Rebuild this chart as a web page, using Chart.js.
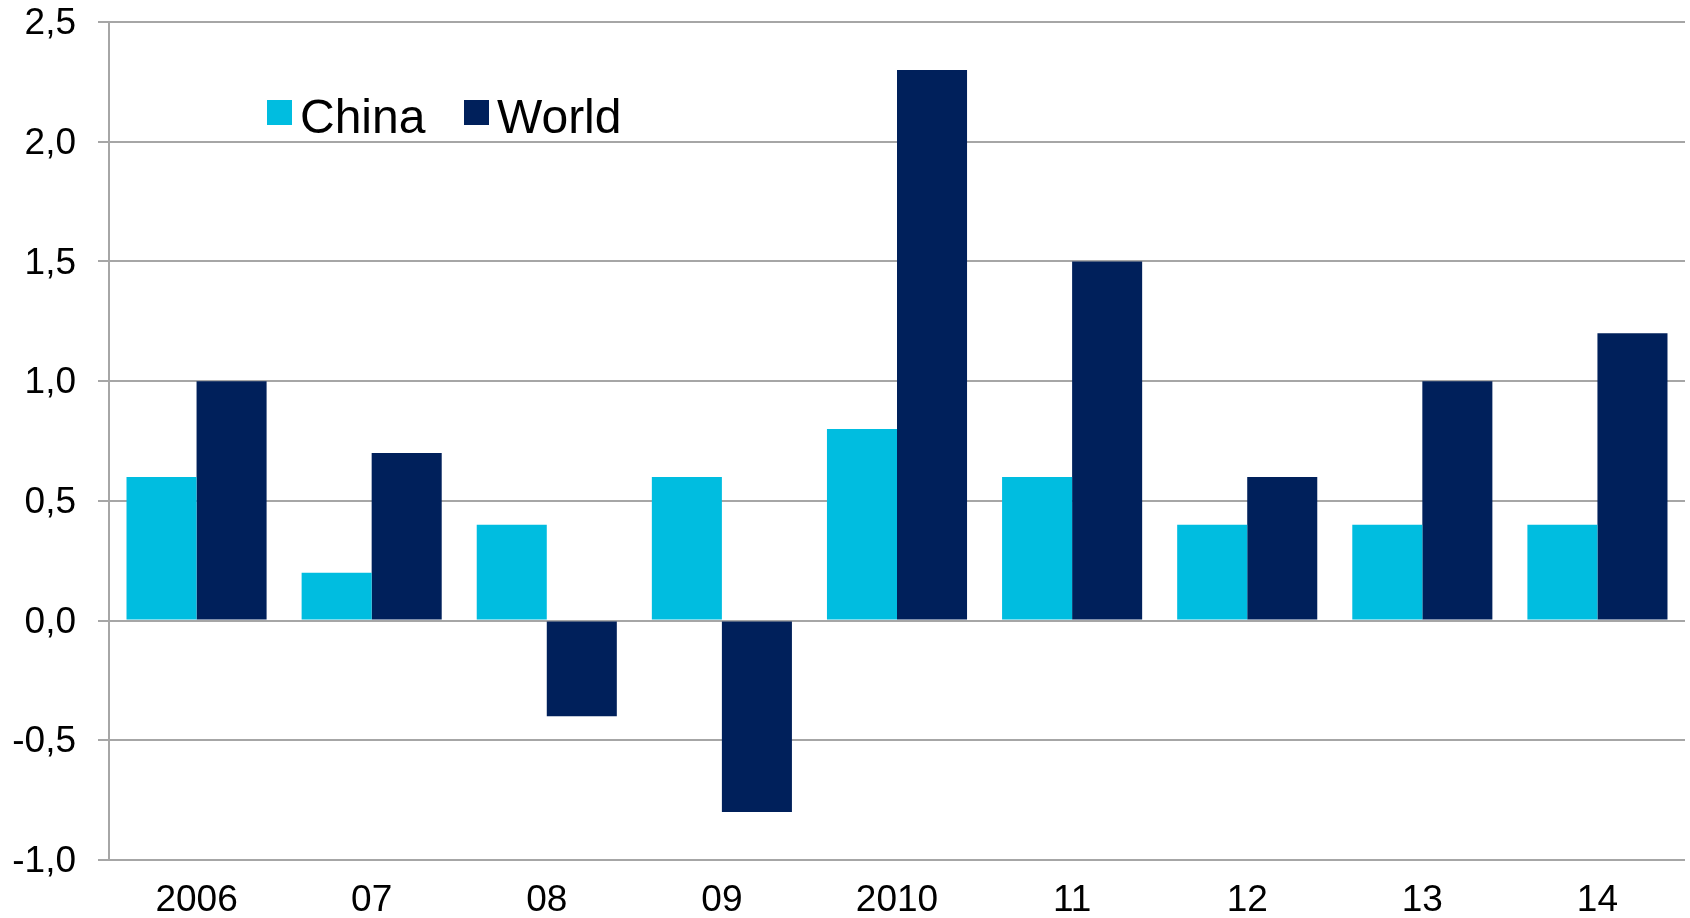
<!DOCTYPE html>
<html>
<head>
<meta charset="utf-8">
<script src="https://cdn.jsdelivr.net/npm/chart.js@4/dist/chart.umd.min.js"></script>
<style>
html,body{margin:0;padding:0;background:#fff;}
#wrap{position:relative;width:1690px;height:918px;}
</style>
</head>
<body>
<div id="wrap"><canvas id="c" width="1690" height="918"></canvas></div>
<script>
const categories = ["2006", "07", "08", "09", "2010", "11", "12", "13", "14"];
const chinaValues = [0.6, 0.2, 0.4, 0.6, 0.8, 0.6, 0.4, 0.4, 0.4];
const worldValues = [1.0, 0.7, -0.4, -0.8, 2.3, 1.5, 0.6, 1.0, 1.2];
const seriesNames = ["China", "World"];
const seriesColors = ["#00BDE0", "#00205B"];
const yMin = -1.0, yMax = 2.5, yStep = 0.5;

const FONT = "'Liberation Sans', Arial, sans-serif";

const insideLegend = {
  id: 'insideLegend',
  afterDraw(chart) {
    const ctx = chart.ctx;
    const items = [{x: 267}, {x: 464}];
    ctx.save();
    ctx.font = "48px " + FONT;
    ctx.textBaseline = 'alphabetic';
    ctx.textAlign = 'left';
    chart.data.datasets.forEach((ds, i) => {
      const x = items[i].x;
      ctx.fillStyle = ds.backgroundColor;
      ctx.fillRect(x, 100, 25, 25);
      ctx.fillStyle = '#000';
      ctx.fillText(ds.label, x + 33, 133);
    });
    ctx.restore();
  }
};

new Chart(document.getElementById('c'), {
  type: 'bar',
  data: {
    labels: categories,
    datasets: [
      {label: seriesNames[0], data: chinaValues, backgroundColor: seriesColors[0]},
      {label: seriesNames[1], data: worldValues, backgroundColor: seriesColors[1]}
    ]
  },
  options: {
    responsive: false,
    animation: false,
    devicePixelRatio: 1,
    layout: {padding: {left: 0, right: 5, top: 22, bottom: 0}},
    datasets: {bar: {categoryPercentage: 0.8, barPercentage: 1.0}},
    plugins: {legend: {display: false}, tooltip: {enabled: false}},
    scales: {
      x: {
        grid: {display: false, drawTicks: false},
        border: {display: false},
        ticks: {color: '#000', font: {family: FONT, size: 37}, padding: 19, maxRotation: 0},
        afterFit(s) { s.height = 58; s.paddingLeft = 0; s.paddingRight = 0; }
      },
      y: {
        min: yMin, max: yMax,
        grid: {color: '#A6A6A6', lineWidth: 2, tickLength: 11, drawTicks: true},
        border: {display: true, color: '#A6A6A6', width: 2},
        ticks: {
          stepSize: yStep, color: '#000', padding: 22, labelOffset: 2,
          font: {family: FONT, size: 37},
          callback: v => (Math.round(v * 10) / 10).toFixed(1).replace('.', ',')
        },
        afterFit(s) { s.width = 109; s.paddingTop = 0; s.paddingBottom = 0; }
      }
    }
  },
  plugins: [insideLegend]
});
</script>
</body>
</html>
